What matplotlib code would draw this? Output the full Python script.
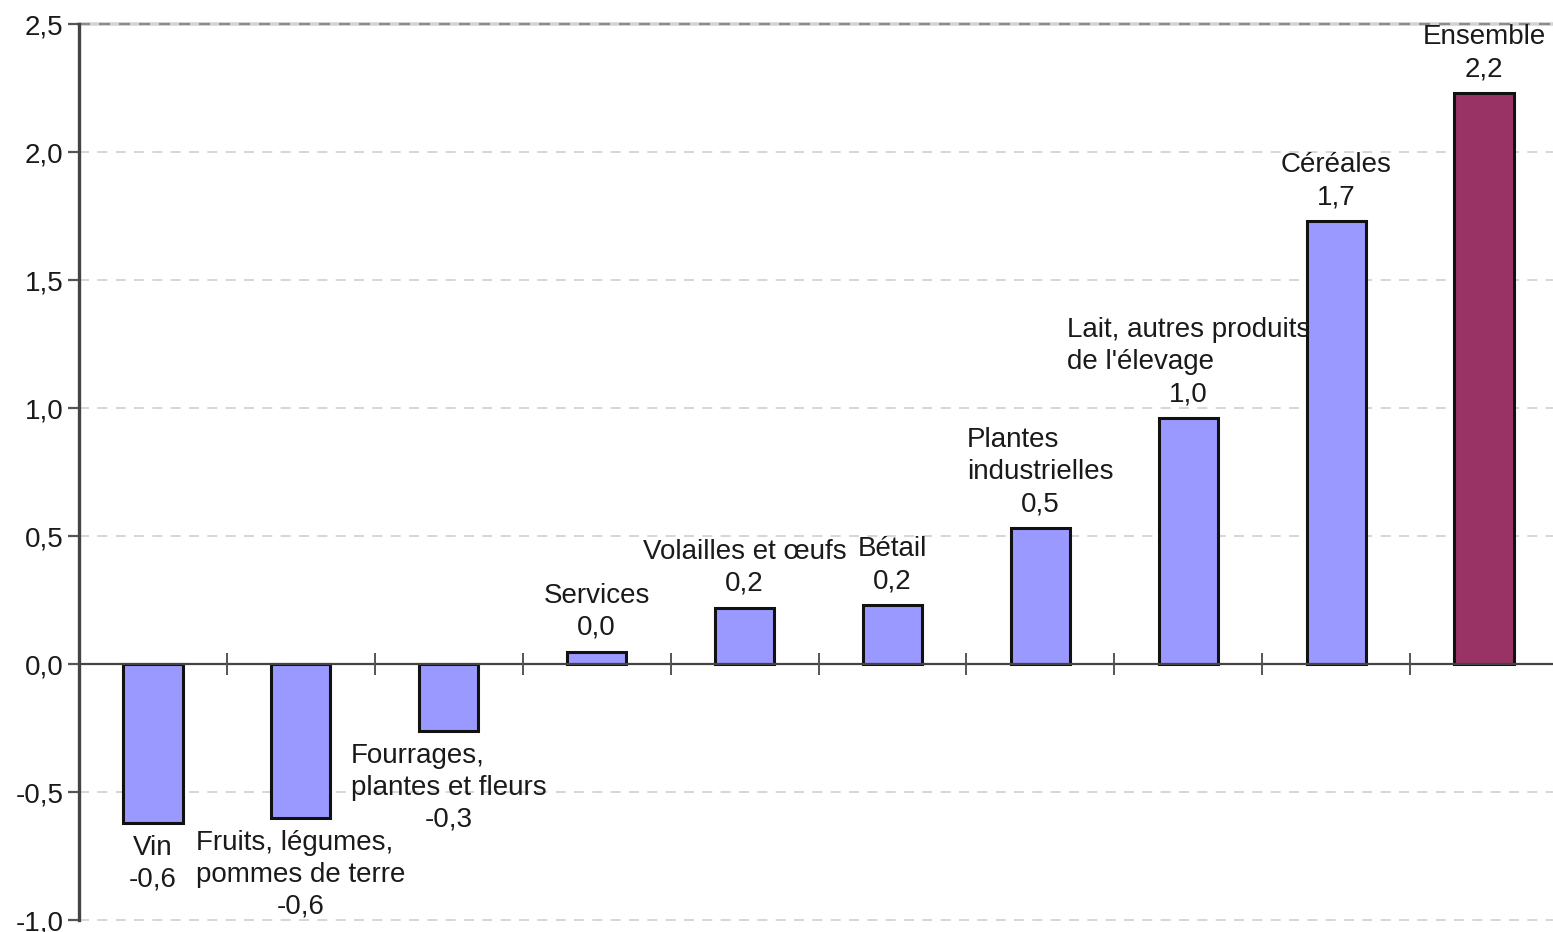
import matplotlib
matplotlib.use("Agg")
import matplotlib.pyplot as plt

plt.rcParams['font.family'] = ['Liberation Sans', 'DejaVu Sans']

categories = [
    "Vin",
    "Fruits, légumes,\npommes de terre",
    "Fourrages,\nplantes et fleurs",
    "Services",
    "Volailles et œufs",
    "Bétail",
    "Plantes\nindustrielles",
    "Lait, autres produits\nde l'élevage",
    "Céréales",
    "Ensemble",
]
values = [-0.62, -0.60, -0.26, 0.047, 0.22, 0.23, 0.53, 0.96, 1.73, 2.23]
bar_colors = ["#9999ff"] * 9 + ["#993366"]
yticks = [-1.0, -0.5, 0.0, 0.5, 1.0, 1.5, 2.0, 2.5]
ytick_labels = ["-1,0", "-0,5", "0,0", "0,5", "1,0", "1,5", "2,0", "2,5"]

W, H, DPI = 1553, 932, 100
fig = plt.figure(figsize=(W / DPI, H / DPI), dpi=DPI)
ax = fig.add_axes([79 / W, (H - 920) / H, (1558 - 79) / W, (920 - 24) / H])

x = list(range(len(categories)))
ax.bar(x, values, width=0.4, color=bar_colors, edgecolor="#111111",
       linewidth=2.2, zorder=3)

ax.set_xlim(-0.5, len(categories) - 0.5)
ax.set_ylim(-1.0, 2.5)

# dashed horizontal grid
for yv in yticks:
    if yv == 0.0:
        continue
    if yv == 2.5:
        ax.axhline(yv, color="#d4d4d4", lw=2.6, zorder=1, clip_on=False)
        ax.axhline(yv, color="#8c8c8c", lw=1.6, ls=(0, (5, 4)), zorder=1,
                   clip_on=False)
    else:
        ax.axhline(yv, color="#d0d0d0", lw=1.2, ls=(0, (6, 5)), zorder=1,
                   clip_on=False)

# zero line with category separators
ax.axhline(0, color="#444444", lw=1.6, zorder=4)
ax.plot([k + 0.5 for k in range(len(categories) - 1)], [0] * (len(categories) - 1),
        ls="none", marker="|", markersize=16, markeredgewidth=1.4,
        color="#555555", zorder=4)

for s in ["top", "right", "bottom"]:
    ax.spines[s].set_visible(False)
ax.spines["left"].set_color("#444444")
ax.spines["left"].set_linewidth(2.4)
ax.spines["left"].set_zorder(5)

ax.set_xticks([])
ax.set_yticks(yticks)
ax.set_yticklabels(ytick_labels)
ax.tick_params(axis="y", direction="out", length=8, width=1.6, color="#555555",
               labelsize=20, labelcolor="#1a1a1a", pad=3)

FS = 20
PITCH = 32
for xi, name, v in zip(x, categories, values):
    n_lines = name.count("\n") + 1
    val_txt = f"{v:.1f}".replace(".", ",")
    if v >= 0:
        val_off = 24
        name_off = val_off + PITCH * (1 + (n_lines - 1) / 2)
    else:
        name_off = -(25 + PITCH * (n_lines - 1) / 2)
        val_off = -(25 + PITCH * n_lines)
    ax.annotate(name, (xi, v), xytext=(0, name_off), textcoords="offset pixels",
                ha="center", va="center", multialignment="left",
                fontsize=FS, color="#1a1a1a", linespacing=1.3, zorder=6)
    ax.annotate(val_txt, (xi, v), xytext=(0, val_off), textcoords="offset pixels",
                ha="center", va="center", fontsize=FS, color="#1a1a1a", zorder=6)

fig.savefig("out.png", dpi=DPI)
